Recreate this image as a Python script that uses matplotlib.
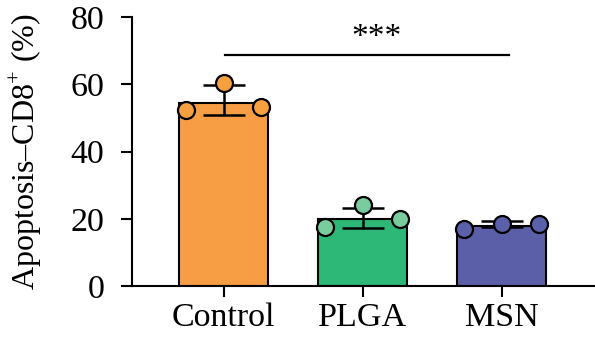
import matplotlib
matplotlib.use("Agg")
import matplotlib.pyplot as plt
import numpy as np

categories = ["Control", "PLGA", "MSN"]
bar_means = [54.5, 20.0, 17.8]
err_low = [50.9, 17.2, 17.4]
err_high = [59.8, 23.3, 19.4]
points = [[52.2, 60.3, 53.3], [17.4, 24.1, 19.9], [17.0, 18.4, 18.4]]
point_offsets = [-0.27, 0.0, 0.27]
bar_colors = ["#F79E45", "#2DB877", "#5A5FA8"]
point_colors = ["#F7A040", "#7ACB9E", "#5A60AA"]
yticks = [0, 20, 40, 60, 80]

plt.rcParams['font.family'] = ['Liberation Serif', 'DejaVu Serif']
plt.rcParams['mathtext.fontset'] = 'custom'
plt.rcParams['mathtext.rm'] = 'Liberation Serif'

fig = plt.figure(figsize=(5.95, 3.43), dpi=100)
ax = fig.add_axes([132/595, 1-286/343, (595-132)/595, (286-17)/343])

x = np.arange(len(categories))
ax.bar(x, bar_means, width=0.64, color=bar_colors, edgecolor="black", linewidth=1.5, zorder=2)
for i in range(len(categories)):
    ax.errorbar([x[i]], [bar_means[i]],
                yerr=[[bar_means[i]-err_low[i]], [err_high[i]-bar_means[i]]],
                fmt="none", ecolor="black", elinewidth=1.8, capsize=15, capthick=1.8, zorder=3)
    ax.scatter(x[i] + np.array(point_offsets), points[i], s=150, color=point_colors[i],
               edgecolor="black", linewidth=1.6, zorder=4, clip_on=False)

ax.plot([0.01, 2.05], [68.8, 68.8], color="black", lw=1.6)
ax.text(1.1, 69.3, "***", ha="center", va="bottom", fontsize=24)

ax.set_xlim(-0.66, 2.67)
ax.set_ylim(0, 80)
ax.set_yticks(yticks)
ax.set_xticks(x)
ax.set_xticklabels(categories)
ax.tick_params(axis="both", labelsize=24.5, width=1.5, length=8, direction="out")
ax.tick_params(axis="y", pad=12)
ax.tick_params(axis="x", pad=4)
ax.set_ylabel("Apoptosis–CD8$^{\\mathrm{+}}$ (%)", fontsize=23)
ax.yaxis.set_label_coords(-0.19, 0.5)
for s in ["top", "right"]:
    ax.spines[s].set_visible(False)
for s in ["left", "bottom"]:
    ax.spines[s].set_linewidth(1.5)

fig.savefig("out.png", dpi=100)
